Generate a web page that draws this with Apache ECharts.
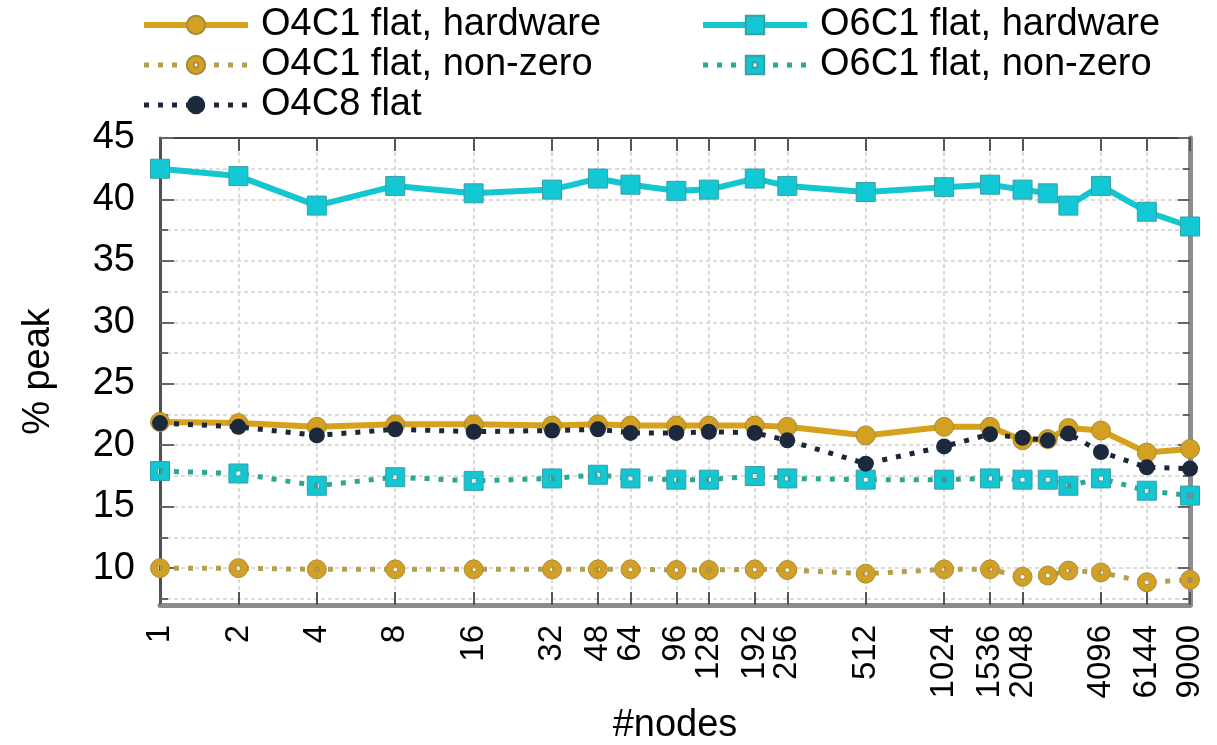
<!DOCTYPE html>
<html>
<head>
<meta charset="utf-8">
<script src="https://cdn.jsdelivr.net/npm/echarts@6/dist/echarts.min.js"></script>
<style>
  html, body { margin: 0; padding: 0; background: #fff; }
  #chart { width: 1217px; height: 745px; }
</style>
</head>
<body>
<div id="chart"></div>
<script>
// Node counts for each measurement
const nodes = [1, 2, 4, 8, 16, 32, 48, 64, 96, 128, 192, 256, 512, 1024, 1536, 2048, 2560, 3072, 4096, 6144, 9000];
// Labelled positions on the node axis
const nodeTicks = [1, 2, 4, 8, 16, 32, 48, 64, 96, 128, 192, 256, 512, 1024, 1536, 2048, 4096, 6144, 9000];
// Percent of peak performance
const o4c1Hardware = [21.9, 21.8, 21.5, 21.7, 21.7, 21.6, 21.7, 21.6, 21.6, 21.6, 21.6, 21.5, 20.8, 21.5, 21.5, 20.4, 20.5, 21.4, 21.2, 19.4, 19.7];
const o6c1Hardware = [42.5, 41.9, 39.5, 41.1, 40.5, 40.8, 41.7, 41.2, 40.7, 40.8, 41.7, 41.1, 40.6, 41.0, 41.2, 40.8, 40.5, 39.5, 41.1, 39.0, 37.8];
const o4c1NonZero = [10.0, 10.0, 9.9, 9.9, 9.9, 9.9, 9.9, 9.9, 9.85, 9.85, 9.9, 9.85, 9.55, 9.9, 9.9, 9.3, 9.4, 9.8, 9.65, 8.85, 9.05];
const o6c1NonZero = [17.9, 17.7, 16.7, 17.4, 17.1, 17.3, 17.6, 17.3, 17.2, 17.2, 17.5, 17.3, 17.2, 17.2, 17.3, 17.2, 17.2, 16.7, 17.3, 16.3, 15.9];
const o4c8Flat = [21.8, 21.5, 20.8, 21.3, 21.1, 21.2, 21.3, 21.0, 21.0, 21.1, 21.0, 20.4, 18.5, 19.9, 20.9, 20.6, 20.4, 20.95, 19.45, 18.2, 18.1];
// Value axis ticks
const yMajorTicks = [10, 15, 20, 25, 30, 35, 40, 45];
const yMinorTicks = [7.5, 12.5, 17.5, 22.5, 27.5, 32.5, 37.5, 42.5];

const FONT = '"Liberation Sans", Arial, Helvetica, sans-serif';
const ringCircle = 'path://M0,-10A10,10 0 1,1 0,10A10,10 0 1,1 0,-10ZM0,-2.6A2.6,2.6 0 1,0 0,2.6A2.6,2.6 0 1,0 0,-2.6Z';
const ringSquare = 'path://M-10,-10L10,-10L10,10L-10,10ZM-2.6,-2.6L-2.6,2.6L2.6,2.6L2.6,-2.6Z';

// Line styles shared by plot and key
const solidGold = { color: '#D6A11C', width: 6 };
const solidCyan = { color: '#14C6D0', width: 6 };
const dotGold = { color: '#B2A04C', width: 5, type: [5, 9], cap: 'butt' };
const dotCyan = { color: '#2AA894', width: 5, type: [5, 9], cap: 'butt' };
const dotNavy = { color: '#1B2638', width: 5, type: [5, 9], cap: 'butt' };

const pairs = vals => nodes.map((n, i) => [n, vals[i]]);
const gridLine = { show: true, lineStyle: { color: '#dcdcdc', width: 2, type: [4, 3] } };

function series(name, vals, opts) {
  return Object.assign({
    name: name,
    type: 'line',
    data: pairs(vals),
    clip: false,
    animation: false,
    xAxisIndex: 0,
    yAxisIndex: 0
  }, opts);
}

const legendText = { fontFamily: FONT, fontSize: 38, color: '#000', lineHeight: 22, padding: [0, 0, 0, 8] };

const chart = echarts.init(document.getElementById('chart'), null, { renderer: 'canvas' });
chart.setOption({
  backgroundColor: '#ffffff',
  animation: false,
  textStyle: { fontFamily: FONT, color: '#000' },
  grid: { left: 160, right: 27, top: 138, bottom: 140, containLabel: false, outerBoundsMode: 'none' },
  legend: [
    {
      data: [
        { name: 'O4C1 flat, hardware', lineStyle: solidGold },
        { name: 'O4C1 flat, non-zero', lineStyle: dotGold },
        { name: 'O4C8 flat', lineStyle: dotNavy }
      ],
      orient: 'vertical', left: 141, top: 6, padding: 0,
      itemWidth: 104, itemHeight: 23, itemGap: 2,
      selectedMode: false,
      textStyle: legendText
    },
    {
      data: [
        { name: 'O6C1 flat, hardware', lineStyle: solidCyan },
        { name: 'O6C1 flat, non-zero', lineStyle: dotCyan }
      ],
      orient: 'vertical', left: 700, top: 6, padding: 0,
      itemWidth: 104, itemHeight: 23, itemGap: 2,
      selectedMode: false,
      textStyle: legendText
    }
  ],
  xAxis: [
    {
      type: 'log', logBase: 2, min: 1, max: 9000, position: 'bottom',
      name: '#nodes', nameLocation: 'middle', nameGap: 92,
      nameTextStyle: { fontFamily: FONT, fontSize: 38, color: '#000' },
      axisLine: { show: true, lineStyle: { color: '#8c8c8c', width: 5 } },
      axisTick: { show: true, inside: true, length: 13, customValues: nodeTicks, lineStyle: { color: '#555', width: 2 } },
      axisLabel: { customValues: nodeTicks, rotate: 90, fontSize: 33, margin: 20, color: '#000', fontFamily: FONT,
                   formatter: v => String(Math.round(v)) },
      splitLine: gridLine,
      minorTick: { show: false }, minorSplitLine: { show: false }
    },
    {
      type: 'log', logBase: 2, min: 1, max: 9000, position: 'top',
      axisLine: { show: true, lineStyle: { color: '#444', width: 2 } },
      axisTick: { show: true, inside: true, length: 13, customValues: nodeTicks, lineStyle: { color: '#555', width: 2 } },
      axisLabel: { show: false },
      splitLine: { show: false }
    }
  ],
  yAxis: [
    {
      type: 'value', min: 7, max: 45, position: 'left',
      name: '% peak', nameLocation: 'middle', nameGap: 102, nameRotate: 90,
      nameTextStyle: { fontFamily: FONT, fontSize: 38, color: '#000' },
      axisLine: { show: true, lineStyle: { color: '#505050', width: 3 } },
      axisTick: { show: true, inside: true, length: 14, customValues: yMajorTicks, lineStyle: { color: '#666', width: 2 } },
      axisLabel: { customValues: yMajorTicks, fontSize: 38, margin: 25, color: '#000', fontFamily: FONT },
      splitLine: gridLine
    },
    {
      type: 'value', min: 7, max: 45, position: 'right',
      axisLine: { show: true, lineStyle: { color: '#8c8c8c', width: 5 } },
      axisTick: { show: true, inside: true, length: 12, customValues: yMajorTicks, lineStyle: { color: '#666', width: 2 } },
      axisLabel: { show: false },
      splitLine: { show: false }
    },
    {
      type: 'value', min: 7, max: 45, position: 'left',
      axisLine: { show: false },
      axisTick: { show: true, inside: true, length: 8, customValues: yMinorTicks, lineStyle: { color: '#666', width: 2 } },
      axisLabel: { show: false },
      splitLine: gridLine
    },
    {
      type: 'value', min: 7, max: 45, position: 'right',
      axisLine: { show: false },
      axisTick: { show: true, inside: true, length: 7, customValues: yMinorTicks, lineStyle: { color: '#666', width: 2 } },
      axisLabel: { show: false },
      splitLine: { show: false }
    }
  ],
  series: [
    series('O4C1 flat, hardware', o4c1Hardware, {
      symbol: 'circle', symbolSize: 19,
      lineStyle: solidGold,
      itemStyle: { color: '#D4A022', borderColor: '#A68C3A', borderWidth: 1 },
      z: 2
    }),
    series('O6C1 flat, hardware', o6c1Hardware, {
      symbol: 'rect', symbolSize: 19,
      lineStyle: solidCyan,
      itemStyle: { color: '#12C8D4', borderColor: '#3A9EA6', borderWidth: 1 },
      z: 3
    }),
    series('O4C1 flat, non-zero', o4c1NonZero, {
      symbol: ringCircle, symbolSize: 19,
      lineStyle: dotGold,
      itemStyle: { color: '#D2A024', borderColor: '#A88E3C', borderWidth: 1 },
      z: 4
    }),
    series('O6C1 flat, non-zero', o6c1NonZero, {
      symbol: ringSquare, symbolSize: 19,
      lineStyle: dotCyan,
      itemStyle: { color: '#12C6D2', borderColor: '#3A9EA6', borderWidth: 1 },
      z: 5
    }),
    series('O4C8 flat', o4c8Flat, {
      symbol: 'circle', symbolSize: 16,
      lineStyle: dotNavy,
      itemStyle: { color: '#1C283C' },
      z: 6
    })
  ]
});
</script>
</body>
</html>
